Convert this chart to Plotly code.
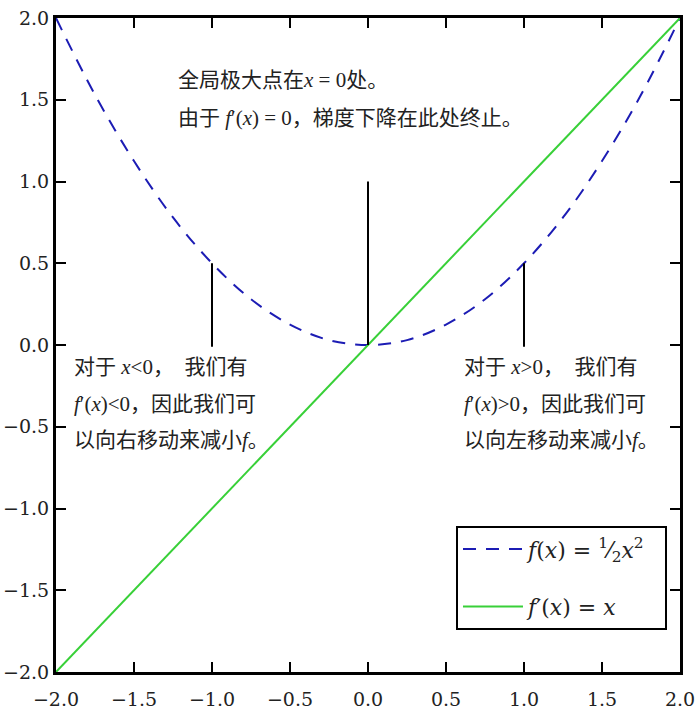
import plotly.graph_objects as go

# ---- data ----
x_vals = [-2.0, -1.75, -1.5, -1.25, -1.0, -0.75, -0.5, -0.25, 0.0,
          0.25, 0.5, 0.75, 1.0, 1.25, 1.5, 1.75, 2.0]
f_vals = [2.0, 1.53, 1.125, 0.78, 0.5, 0.28, 0.125, 0.03, 0.0,
          0.03, 0.125, 0.28, 0.5, 0.78, 1.125, 1.53, 2.0]
line_x = [-2.0, 2.0]
line_y = [-2.0, 2.0]

tick_vals = [-2.0, -1.5, -1.0, -0.5, 0.0, 0.5, 1.0, 1.5, 2.0]
tick_text = ["\u22122.0", "\u22121.5", "\u22121.0", "\u22120.5", "0.0", "0.5", "1.0", "1.5", "2.0"]

# annotation pointer segments: (x0, y0, x1, y1)
pointers = [(0.0, 1.0, 0.0, 0.0), (-1.0, -0.01, -1.0, 0.5), (1.0, -0.01, 1.0, 0.5)]

I = lambda s: "<i>" + s + "</i>"
top_lines = ["全局极大点在" + I("x") + " = 0处。",
             "由于 " + I("f") + "′(" + I("x") + ") = 0，梯度下降在此处终止。"]
left_lines = ["对于 " + I("x") + "<0，  我们有",
              I("f") + "′(" + I("x") + ")<0，因此我们可",
              "以向右移动来减小" + I("f") + "。"]
right_lines = ["对于 " + I("x") + ">0，  我们有",
               I("f") + "′(" + I("x") + ")>0，因此我们可",
               "以向左移动来减小" + I("f") + "。"]

FONT = "DejaVu Serif, Noto Sans CJK SC"
CJK = "Liberation Serif, Noto Sans CJK SC"

fig = go.Figure()
fig.add_trace(go.Scatter(
    x=x_vals, y=f_vals, mode="lines", line_shape="spline",
    line=dict(color="#1c1cb4", width=2, dash="13px,10px"),
    legendgroup="a",
    name=I("f") + "(" + I("x") + ") = <sup>1</sup>\u2044<sub>2</sub>" + I("x") + "<sup>2</sup>  "))
fig.add_trace(go.Scatter(
    x=line_x, y=line_y, mode="lines",
    line=dict(color="#38d038", width=2),
    legendgroup="b",
    name=I("f") + "′(" + I("x") + ") = " + I("x")))

for (x0, y0, x1, y1) in pointers:
    fig.add_shape(type="line", x0=x0, y0=y0, x1=x1, y1=y1, xref="x", yref="y",
                  line=dict(color="black", width=2))

def add_lines(lines, x, ys):
    for t, yy in zip(lines, ys):
        fig.add_annotation(x=x, y=yy, xref="x", yref="y", text=t, showarrow=False,
                           xanchor="left", yanchor="middle",
                           font=dict(family=CJK, size=21, color="#222"))

def py2y(py):
    return 2 - (py - 18) / 163.5

def px2x(px):
    return -2 + (px - 56) / 156.0

add_lines(top_lines, px2x(176), [py2y(80), py2y(118)])
add_lines(left_lines, px2x(72), [py2y(367), py2y(404), py2y(440)])
add_lines(right_lines, px2x(462), [py2y(367), py2y(404), py2y(440)])

axis_common = dict(
    range=[-2, 2], tickvals=tick_vals, ticktext=tick_text,
    ticks="inside", ticklen=10, tickwidth=2, tickcolor="black",
    showline=True, linecolor="black", linewidth=3, mirror="ticks",
    showgrid=False, zeroline=False, automargin=False,
    tickfont=dict(family=FONT, size=19, color="#222"),
)
fig.update_xaxes(**axis_common, ticklabelstandoff=8)
fig.update_yaxes(**axis_common)

fig.update_layout(
    width=698, height=727,
    margin=dict(l=56, r=18, t=18, b=55),
    plot_bgcolor="white", paper_bgcolor="white",
    legend=dict(x=0.641, y=0.223, xanchor="left", yanchor="top",
                bordercolor="black", borderwidth=2, bgcolor="white",
                font=dict(family=FONT, size=22, color="#222"),
                itemwidth=60, tracegroupgap=26, valign="middle"),
    showlegend=True,
)

fig.write_html("out.html")
